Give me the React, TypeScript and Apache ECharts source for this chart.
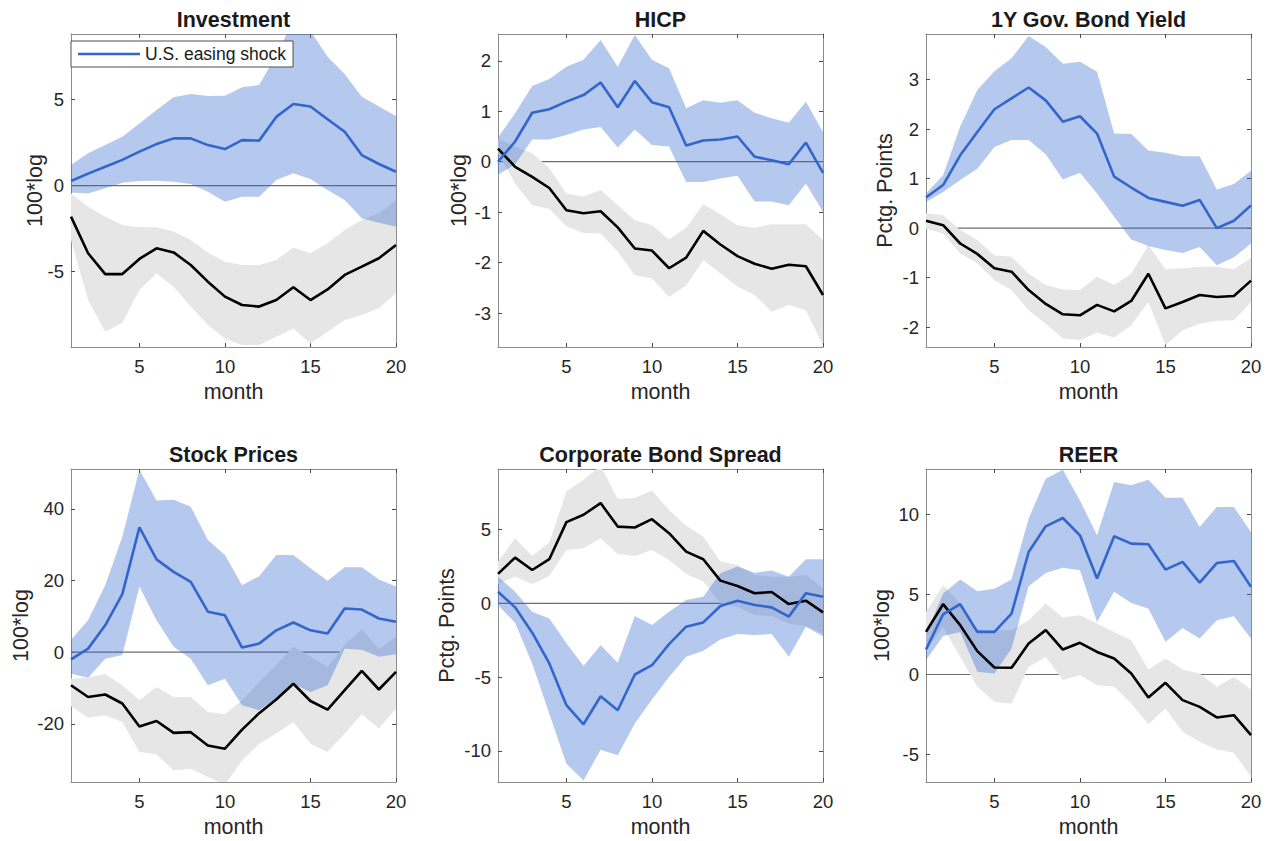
import React, { useEffect, useRef } from "react";
import * as echarts from "echarts";

// Horizon in months
const months = [1, 2, 3, 4, 5, 6, 7, 8, 9, 10, 11, 12, 13, 14, 15, 16, 17, 18, 19, 20];
const xTicks = [5, 10, 15, 20];

// Investment
const invUS = [0.27, 0.7, 1.1, 1.5, 1.98, 2.42, 2.75, 2.75, 2.36, 2.13, 2.65, 2.62, 4.0, 4.75, 4.6, 3.86, 3.14, 1.78, 1.26, 0.81];
const invUSHi = [1.2, 1.88, 2.36, 2.85, 3.62, 4.4, 5.14, 5.33, 5.21, 5.23, 5.72, 5.85, 7.6, 9.6, 9.0, 7.5, 6.5, 5.17, 4.6, 4.05];
const invUSLo = [-0.4, -0.45, -0.15, 0.17, 0.27, 0.29, 0.23, 0.1, -0.35, -0.93, -0.64, -0.64, 0.33, 0.72, 0.39, -0.25, -0.83, -1.9, -2.15, -2.38];
const invAlt = [-1.8, -3.93, -5.14, -5.14, -4.26, -3.64, -3.88, -4.61, -5.58, -6.45, -6.94, -7.03, -6.65, -5.91, -6.65, -6.03, -5.19, -4.71, -4.22, -3.45];
const invAltHi = [-0.45, -1.22, -1.8, -2.29, -2.42, -2.42, -2.67, -3.16, -3.88, -4.42, -4.61, -4.61, -4.32, -3.59, -3.93, -3.35, -2.58, -2.0, -1.61, -0.83];
const invAltLo = [-3.16, -6.65, -8.49, -7.97, -6.07, -5.1, -5.87, -7.03, -8.1, -8.88, -9.26, -9.26, -8.78, -8.3, -9.17, -8.49, -7.81, -7.52, -7.13, -6.26];
const invTicks = [-5, 0, 5];

// HICP
const hicpUS = [0.0, 0.4, 0.97, 1.04, 1.19, 1.32, 1.57, 1.08, 1.6, 1.18, 1.08, 0.32, 0.42, 0.44, 0.5, 0.1, 0.03, -0.05, 0.38, -0.22];
const hicpUSHi = [0.48, 0.96, 1.5, 1.64, 1.88, 2.02, 2.41, 1.88, 2.51, 2.02, 1.85, 1.06, 1.22, 1.17, 1.22, 0.97, 0.86, 0.77, 1.19, 0.59];
const hicpUSLo = [-0.26, -0.05, 0.44, 0.44, 0.53, 0.64, 0.69, 0.28, 0.64, 0.33, 0.3, -0.4, -0.4, -0.33, -0.28, -0.79, -0.79, -0.86, -0.43, -0.99];
const hicpAlt = [0.26, -0.1, -0.3, -0.52, -0.96, -1.02, -0.98, -1.3, -1.72, -1.76, -2.11, -1.9, -1.37, -1.64, -1.87, -2.02, -2.12, -2.04, -2.07, -2.64];
const hicpAltHi = [0.46, 0.3, 0.17, -0.13, -0.63, -0.69, -0.56, -0.86, -1.16, -1.26, -1.54, -1.31, -0.84, -1.04, -1.26, -1.31, -1.24, -1.24, -1.24, -1.55];
const hicpAltLo = [0.17, -0.43, -0.86, -0.93, -1.28, -1.41, -1.42, -1.78, -2.25, -2.31, -2.68, -2.45, -1.95, -2.21, -2.47, -2.64, -2.97, -2.84, -2.94, -3.64];
const hicpTicks = [-3, -2, -1, 0, 1, 2];

// 1Y government bond yield
const govUS = [0.62, 0.87, 1.47, 1.94, 2.4, 2.62, 2.84, 2.58, 2.15, 2.26, 1.91, 1.04, 0.82, 0.61, 0.53, 0.45, 0.57, 0.0, 0.15, 0.46];
const govUSHi = [0.7, 1.07, 2.05, 2.79, 3.17, 3.43, 3.88, 3.66, 3.32, 3.36, 3.16, 1.91, 1.9, 1.57, 1.52, 1.45, 1.45, 0.78, 0.89, 1.16];
const govUSLo = [0.53, 0.73, 0.97, 1.2, 1.64, 1.78, 1.78, 1.49, 0.98, 1.12, 0.7, 0.23, -0.23, -0.36, -0.44, -0.5, -0.38, -0.75, -0.59, -0.31];
const govAlt = [0.15, 0.06, -0.31, -0.52, -0.81, -0.88, -1.25, -1.53, -1.74, -1.76, -1.55, -1.68, -1.47, -0.92, -1.62, -1.49, -1.35, -1.39, -1.37, -1.06];
const govAltHi = [0.3, 0.26, -0.04, -0.24, -0.55, -0.58, -0.92, -1.15, -1.24, -1.25, -0.98, -1.15, -0.92, -0.34, -0.83, -0.81, -0.78, -0.78, -0.83, -0.61];
const govAltLo = [-0.01, -0.11, -0.51, -0.71, -1.05, -1.25, -1.66, -1.93, -2.23, -2.26, -2.11, -2.21, -1.96, -1.49, -2.36, -2.06, -1.93, -1.87, -1.86, -1.49];
const govTicks = [-2, -1, 0, 1, 2, 3];

// Stock prices
const stkUS = [-2.0, 1.0, 7.5, 16.2, 34.8, 25.9, 22.4, 19.6, 11.3, 10.3, 1.3, 2.4, 6.1, 8.3, 6.1, 5.2, 12.2, 11.9, 9.4, 8.5];
const stkUSHi = [3.5, 8.9, 18.7, 32.2, 50.9, 42.3, 42.5, 40.6, 31.3, 27.1, 18.7, 21.2, 27.1, 27.1, 23.4, 19.9, 23.7, 23.7, 20.3, 18.3];
const stkUSLo = [-6.0, -7.1, -1.8, -0.8, 18.3, 8.9, 1.5, -1.8, -9.2, -7.4, -14.8, -16.2, -12.9, -8.8, -11.1, -9.2, 1.0, 0.7, -1.3, -0.6];
const stkAlt = [-9.2, -12.5, -11.8, -14.3, -20.7, -19.2, -22.5, -22.3, -26.0, -26.9, -21.6, -17.0, -13.2, -8.8, -13.6, -16.0, -10.6, -5.2, -10.4, -5.5];
const stkAltHi = [-7.4, -7.1, -6.1, -9.2, -13.4, -9.7, -12.5, -12.5, -16.7, -17.3, -13.4, -8.3, -3.6, 1.5, -1.3, -4.1, 2.0, 6.3, 1.0, 4.3];
const stkAltLo = [-15.1, -18.3, -17.6, -19.5, -27.8, -28.5, -33.0, -32.5, -34.8, -37.0, -30.2, -25.5, -22.7, -19.5, -25.5, -27.8, -22.7, -17.3, -21.3, -15.7];
const stkTicks = [-20, 0, 20, 40];

// Corporate bond spread
const corpUS = [0.79, -0.27, -1.99, -4.07, -6.9, -8.19, -6.29, -7.24, -4.82, -4.19, -2.76, -1.58, -1.29, -0.18, 0.18, -0.11, -0.27, -0.9, 0.68, 0.45];
const corpUSHi = [1.81, 0.79, -0.57, -1.02, -2.71, -4.25, -2.83, -4.03, -0.86, -1.47, -0.57, 0.23, 0.45, 2.04, 2.49, 2.08, 2.22, 1.81, 2.99, 2.99];
const corpUSLo = [-0.11, -1.31, -4.07, -7.47, -10.86, -12.0, -9.91, -10.29, -8.14, -6.52, -4.98, -3.62, -3.21, -2.44, -2.08, -2.15, -2.08, -3.62, -1.58, -2.22];
const corpAlt = [2.0, 3.1, 2.26, 2.99, 5.5, 6.0, 6.79, 5.2, 5.14, 5.7, 4.75, 3.5, 2.99, 1.54, 1.18, 0.68, 0.77, -0.05, 0.18, -0.61];
const corpAltHi = [2.83, 4.41, 3.21, 4.12, 7.58, 8.37, 9.3, 7.06, 7.13, 7.65, 6.33, 5.25, 4.52, 2.83, 2.6, 1.92, 1.81, 1.81, 1.92, 1.02];
const corpAltLo = [1.31, 1.81, 1.31, 1.86, 3.62, 3.73, 4.41, 3.35, 3.21, 3.62, 2.94, 1.99, 1.5, 0.0, -0.23, -0.79, -0.86, -1.36, -1.54, -2.04];
const corpTicks = [-10, -5, 0, 5];

// Real effective exchange rate
const reerUS = [1.56, 3.76, 4.39, 2.66, 2.66, 3.8, 7.65, 9.25, 9.77, 8.69, 5.99, 8.63, 8.17, 8.13, 6.55, 7.03, 5.74, 6.96, 7.09, 5.47];
const reerUSHi = [2.52, 5.05, 5.93, 5.2, 5.36, 5.93, 9.73, 12.22, 12.79, 10.87, 8.69, 12.02, 11.81, 12.16, 11.04, 11.04, 9.21, 10.46, 10.46, 8.9];
const reerUSLo = [0.89, 2.41, 2.66, 0.17, 0.06, 1.62, 5.51, 6.34, 6.67, 6.51, 3.28, 5.16, 4.47, 4.12, 2.04, 2.91, 2.25, 3.39, 3.64, 2.25];
const reerAlt = [2.66, 4.39, 3.08, 1.46, 0.44, 0.42, 1.93, 2.77, 1.56, 1.98, 1.41, 1.0, 0.06, -1.43, -0.52, -1.6, -2.02, -2.68, -2.54, -3.78];
const reerAltHi = [3.91, 5.57, 4.43, 2.81, 2.77, 2.77, 3.39, 4.43, 3.56, 3.7, 3.18, 2.66, 2.14, 0.31, 1.0, 0.31, 0.06, -0.77, -0.15, -0.94];
const reerAltLo = [1.52, 2.97, 1.1, -0.77, -1.7, -1.81, 0.48, 1.1, -0.35, -0.04, -0.67, -0.77, -1.81, -3.1, -2.12, -3.58, -4.2, -4.68, -4.89, -6.38];
const reerTicks = [-5, 0, 5, 10];

const FONT = "'Liberation Sans', Arial, Helvetica, sans-serif";
const BLUE = "#3366cc";
const BLUE_BAND = "rgba(51,102,204,0.36)";
const GREY_BAND = "#e6e6e6";
const BOX = "#8c8c8c";
const TEXT = "#262626";
const SHOCK = "U.S. easing shock";

const gridLefts = [71, 498, 926];
const gridTops = [34, 469];
const GW = 325;
const GH = 313;

type Panel = {
  title: string;
  yName: string;
  yMin: number;
  yMax: number;
  yTicks: number[];
  us: number[];
  usHi: number[];
  usLo: number[];
  alt: number[];
  altHi: number[];
  altLo: number[];
  yNameOffset: number;
};

const panels: Panel[] = [
  { title: "Investment", yName: "100*log", yMin: -9.38, yMax: 8.82, yTicks: invTicks, us: invUS, usHi: invUSHi, usLo: invUSLo, alt: invAlt, altHi: invAltHi, altLo: invAltLo, yNameOffset: 36 },
  { title: "HICP", yName: "100*log", yMin: -3.67, yMax: 2.53, yTicks: hicpTicks, us: hicpUS, usHi: hicpUSHi, usLo: hicpUSLo, alt: hicpAlt, altHi: hicpAltHi, altLo: hicpAltLo, yNameOffset: 39 },
  { title: "1Y Gov. Bond Yield", yName: "Pctg. Points", yMin: -2.4, yMax: 3.92, yTicks: govTicks, us: govUS, usHi: govUSHi, usLo: govUSLo, alt: govAlt, altHi: govAltHi, altLo: govAltLo, yNameOffset: 41 },
  { title: "Stock Prices", yName: "100*log", yMin: -36.2, yMax: 51.1, yTicks: stkTicks, us: stkUS, usHi: stkUSHi, usLo: stkUSLo, alt: stkAlt, altHi: stkAltHi, altLo: stkAltLo, yNameOffset: 50 },
  { title: "Corporate Bond Spread", yName: "Pctg. Points", yMin: -12.1, yMax: 9.1, yTicks: corpTicks, us: corpUS, usHi: corpUSHi, usLo: corpUSLo, alt: corpAlt, altHi: corpAltHi, altLo: corpAltLo, yNameOffset: 51 },
  { title: "REER", yName: "100*log", yMin: -6.71, yMax: 12.83, yTicks: reerTicks, us: reerUS, usHi: reerUSHi, usLo: reerUSLo, alt: reerAlt, altHi: reerAltHi, altLo: reerAltLo, yNameOffset: 44 },
];

function bandSeries(axis: number, lo: number[], hi: number[], fill: string, z: number) {
  return {
    type: "custom",
    xAxisIndex: axis,
    yAxisIndex: axis,
    silent: true,
    clip: true,
    z,
    data: months.map((m, i) => [m, lo[i], hi[i]]),
    encode: { x: 0, y: [1, 2] },
    renderItem: (params: any, api: any) => {
      if (params.dataIndex !== 0) return null;
      const upper = months.map((m, i) => api.coord([m, hi[i]]));
      const lower = months.map((m, i) => api.coord([m, lo[i]])).reverse();
      const cs = params.coordSys;
      return {
        type: "polygon",
        shape: { points: upper.concat(lower) },
        style: { fill, stroke: null },
        clipPath: { type: "rect", shape: { x: cs.x, y: cs.y, width: cs.width, height: cs.height } },
      };
    },
  };
}

function lineSeries(axis: number, values: number[], color: string, z: number, name?: string) {
  return {
    type: "line",
    name,
    xAxisIndex: axis,
    yAxisIndex: axis,
    silent: true,
    symbol: "none",
    showSymbol: false,
    z,
    data: months.map((m, i) => [m, values[i]]),
    lineStyle: { color, width: 2.6 },
    itemStyle: { color },
  };
}

function buildOption() {
  const grid: any[] = [];
  const xAxis: any[] = [];
  const yAxis: any[] = [];
  const series: any[] = [];
  const graphic: any[] = [];

  panels.forEach((p, i) => {
    const left = gridLefts[i % 3];
    const top = gridTops[Math.floor(i / 3)];
    grid.push({ left, top, width: GW, height: GH, containLabel: false, show: false });

    const axisLine = { show: true, onZero: false, lineStyle: { color: BOX, width: 1 } };
    const tickStyle = { color: "#4a4a4a", width: 1 };
    const labelStyle = { color: TEXT, fontSize: 18.5, fontFamily: FONT };

    xAxis.push({
      type: "value", gridIndex: i, position: "bottom", min: 1, max: 20,
      axisLine, splitLine: { show: false },
      axisTick: { show: true, inside: true, length: 4, customValues: xTicks, lineStyle: tickStyle },
      axisLabel: { show: true, customValues: xTicks, margin: 10, ...labelStyle },
    });
    xAxis.push({
      type: "value", gridIndex: i, position: "top", min: 1, max: 20,
      axisLine, splitLine: { show: false },
      axisTick: { show: true, inside: true, length: 4, customValues: xTicks, lineStyle: tickStyle },
      axisLabel: { show: false },
    });
    yAxis.push({
      type: "value", gridIndex: i, position: "left", min: p.yMin, max: p.yMax,
      axisLine, splitLine: { show: false },
      axisTick: { show: true, inside: true, length: 4, customValues: p.yTicks, lineStyle: tickStyle },
      axisLabel: { show: true, customValues: p.yTicks, margin: 7, ...labelStyle },
    });
    yAxis.push({
      type: "value", gridIndex: i, position: "right", min: p.yMin, max: p.yMax,
      axisLine, splitLine: { show: false },
      axisTick: { show: true, inside: true, length: 4, customValues: p.yTicks, lineStyle: tickStyle },
      axisLabel: { show: false },
    });

    const ax = i * 2;
    // zero reference line sits underneath the bands
    series.push({
      type: "line", xAxisIndex: ax, yAxisIndex: ax, silent: true, symbol: "none", z: 1,
      data: [[months[0], 0], [months[months.length - 1], 0]],
      lineStyle: { color: "#6e6e6e", width: 1.2 },
    });
    series.push(bandSeries(ax, p.altLo, p.altHi, GREY_BAND, 2));
    series.push(bandSeries(ax, p.usLo, p.usHi, BLUE_BAND, 3));
    series.push(lineSeries(ax, p.alt, "#000000", 4));
    series.push(lineSeries(ax, p.us, BLUE, 5, SHOCK));

    const cx = left + GW / 2;
    graphic.push({
      type: "text", x: cx, y: top - 14,
      style: { text: p.title, fill: "#1a1a1a", fontSize: 21.5, fontWeight: "bold", fontFamily: FONT, align: "center", verticalAlign: "middle" },
    });
    graphic.push({
      type: "text", x: cx, y: top + GH + 45,
      style: { text: "month", fill: TEXT, fontSize: 21.5, fontFamily: FONT, align: "center", verticalAlign: "middle" },
    });
    graphic.push({
      type: "text", x: left - p.yNameOffset, y: top + GH / 2, rotation: Math.PI / 2,
      style: { text: p.yName, fill: TEXT, fontSize: 21.5, fontFamily: FONT, align: "center", verticalAlign: "middle" },
    });
  });

  return {
    animation: false,
    backgroundColor: "#ffffff",
    grid,
    xAxis,
    yAxis,
    series,
    graphic,
    legend: {
      show: true,
      data: [{ name: SHOCK, icon: "rect" }],
      left: 71,
      top: 41,
      orient: "horizontal",
      padding: [4, 7, 4, 7],
      itemWidth: 62,
      itemHeight: 2.6,
      itemGap: 0,
      z: 10,
      borderColor: "#4d4d4d",
      borderWidth: 1,
      backgroundColor: "#ffffff",
      selectedMode: false,
      textStyle: { fontSize: 17.5, color: "#1a1a1a", fontFamily: FONT },
    },
  };
}

export default function App() {
  const ref = useRef<HTMLDivElement>(null);
  useEffect(() => {
    if (!ref.current) return;
    const chart = echarts.init(ref.current, undefined, { renderer: "svg" });
    chart.setOption(buildOption() as any);
    return () => chart.dispose();
  }, []);
  return (
    <div
      ref={ref}
      style={{ position: "absolute", left: 0, top: 0, width: 1271, height: 841, background: "#fff" }}
    />
  );
}
